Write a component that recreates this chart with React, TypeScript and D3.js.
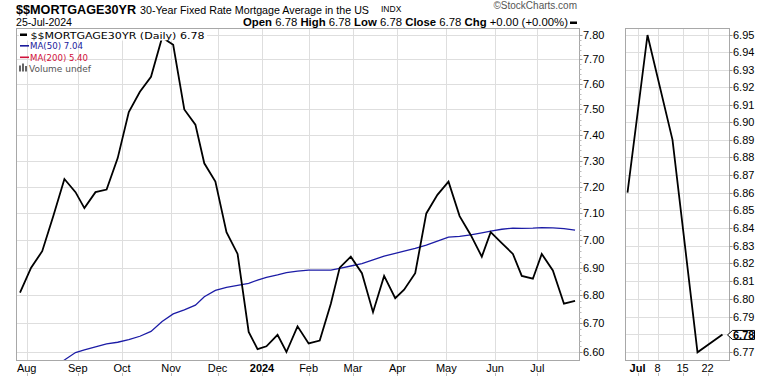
import React from 'react';
import * as d3 from 'd3';

// ---- Data (weekly 30-year fixed mortgage average) ----
const priceDates = [
  '2023-07-27', '2023-08-03', '2023-08-10', '2023-08-17', '2023-08-24', '2023-08-31',
  '2023-09-07', '2023-09-14', '2023-09-21', '2023-09-28', '2023-10-05', '2023-10-12',
  '2023-10-19', '2023-10-26', '2023-11-02', '2023-11-09', '2023-11-16', '2023-11-22',
  '2023-11-30', '2023-12-07', '2023-12-14', '2023-12-21', '2023-12-28', '2024-01-04',
  '2024-01-11', '2024-01-18', '2024-01-25', '2024-02-01', '2024-02-08', '2024-02-15',
  '2024-02-22', '2024-02-29', '2024-03-07', '2024-03-14', '2024-03-21', '2024-03-28',
  '2024-04-04', '2024-04-11', '2024-04-18', '2024-04-25', '2024-05-02', '2024-05-09',
  '2024-05-16', '2024-05-23', '2024-05-30', '2024-06-06', '2024-06-13', '2024-06-20',
  '2024-06-27', '2024-07-03', '2024-07-11', '2024-07-18', '2024-07-25',
];
const priceValues = [
  6.81, 6.90, 6.96, 7.09, 7.23, 7.18,
  7.12, 7.18, 7.19, 7.31, 7.49, 7.57,
  7.63, 7.79, 7.76, 7.50, 7.44, 7.29,
  7.22, 7.03, 6.95, 6.67, 6.61, 6.62,
  6.66, 6.60, 6.69, 6.63, 6.64, 6.77,
  6.90, 6.94, 6.88, 6.74, 6.87, 6.79,
  6.82, 6.88, 7.10, 7.17, 7.22, 7.09,
  7.02, 6.94, 7.03, 6.99, 6.95, 6.87,
  6.86, 6.95, 6.89, 6.77, 6.78,
];
const ma50Values: (number | null)[] = [
  null, null, null, 6.55, 6.572, 6.598,
  6.607, 6.618, 6.628, 6.634, 6.643, 6.655,
  6.672, 6.707, 6.734, 6.748, 6.765, 6.795,
  6.818, 6.829, 6.836, 6.843, 6.855, 6.865,
  6.874, 6.882, 6.887, 6.891, 6.891, 6.891,
  6.897, 6.906, 6.915, 6.928, 6.942, 6.952,
  6.960, 6.970, 6.982, 6.997, 7.012, 7.015,
  7.020, 7.028, 7.034, 7.041, 7.045, 7.044,
  7.045, 7.047, 7.046, 7.043, 7.038,
];
const ma200Last = 5.40;

const holidays = [
  '2023-09-04', '2023-11-23', '2023-12-25', '2024-01-01', '2024-01-15',
  '2024-02-19', '2024-03-29', '2024-05-27', '2024-06-19', '2024-07-04',
];

const monthStarts = [
  '2023-08-01', '2023-09-01', '2023-10-01', '2023-11-01', '2023-12-01', '2024-01-01',
  '2024-02-01', '2024-03-01', '2024-04-01', '2024-05-01', '2024-06-01', '2024-07-01',
];
const monthLabels = ['Aug', 'Sep', 'Oct', 'Nov', 'Dec', '2024', 'Feb', 'Mar', 'Apr', 'May', 'Jun', 'Jul'];
const monthBold = [false, false, false, false, false, true, false, false, false, false, false, false];

const zoomTickDates = ['2024-07-01', '2024-07-08', '2024-07-15', '2024-07-22'];
const zoomTickLabels = ['Jul', '8', '15', '22'];
const zoomTickBold = [true, false, false, false];

const mainYTicks = [6.6, 6.7, 6.8, 6.9, 7.0, 7.1, 7.2, 7.3, 7.4, 7.5, 7.6, 7.7, 7.8];
const zoomYTicks = [6.77, 6.78, 6.79, 6.8, 6.81, 6.82, 6.83, 6.84, 6.85, 6.86, 6.87, 6.88, 6.89, 6.9, 6.91, 6.92, 6.93, 6.94, 6.95];

// ---- trading day calendar ----
const tradingDays: string[] = [];
{
  const d = new Date(Date.UTC(2023, 6, 20));
  const end = Date.UTC(2024, 7, 5);
  while (d.getTime() <= end) {
    const dow = d.getUTCDay();
    const s = d.toISOString().slice(0, 10);
    if (dow !== 0 && dow !== 6 && !holidays.includes(s)) tradingDays.push(s);
    d.setUTCDate(d.getUTCDate() + 1);
  }
}
const tIndex = (s: string) => tradingDays.findIndex((t) => t >= s);

// ---- layout ----
const M = { left: 16.5, right: 579.5, top: 28.5, bottom: 360.5 };
const Z = { left: 625.5, right: 729.5, top: 28.5, bottom: 360.5 };
const GRID = '#dedede';
const BORDER = '#a8a8a8';
const AXISFONT = "'Liberation Sans', Arial, sans-serif";
const LEGFONT = "'DejaVu Sans', Verdana, sans-serif";

export default function App() {
  const firstI = tIndex(priceDates[0]);
  const lastI = tIndex(priceDates[priceDates.length - 1]);
  const x = d3.scaleLinear().domain([firstI - 1.58, lastI + 2.0]).range([M.left, M.right]);
  const y = d3.scaleLog().domain([6.6, 7.8]).range([352, 35]);

  const zStart = priceDates.indexOf('2024-06-27');
  const zDates = priceDates.slice(zStart);
  const zVals = priceValues.slice(zStart);
  const zx = d3.scaleLinear()
    .domain([tIndex(zDates[0]) - 0.4, tIndex(zDates[zDates.length - 1]) + 1.4])
    .range([Z.left, Z.right]);
  const zy = d3.scaleLog().domain([6.77, 6.95]).range([352.3, 35]);

  const priceLine = d3.line<number>()
    .x((_, i) => x(tIndex(priceDates[i])))
    .y((v) => y(v));
  const maLine = d3.line<number | null>()
    .defined((v) => v !== null)
    .x((_, i) => x(tIndex(priceDates[i])))
    .y((v) => y(v as number));
  const zLine = d3.line<number>()
    .x((_, i) => zx(tIndex(zDates[i])))
    .y((v) => zy(v));

  const last = priceValues[priceValues.length - 1];
  const lastMa = ma50Values[ma50Values.length - 1] as number;
  const lastDate = priceDates[priceDates.length - 1];
  const dateLabel = d3.utcFormat('%d-%b-%Y')(new Date(lastDate + 'T00:00:00Z'));

  const minorMain = d3.range(6.6, 7.8001, 0.02);
  const tagY = zy(last);

  return (
    <svg width={770} height={376} style={{ position: 'absolute', left: 0, top: 0, background: '#fff' }}>
      <defs>
        <clipPath id="mainClip">
          <rect x={M.left} y={M.top} width={M.right - M.left} height={M.bottom - M.top} />
        </clipPath>
        <clipPath id="zoomClip">
          <rect x={Z.left} y={Z.top} width={Z.right - Z.left} height={Z.bottom - Z.top} />
        </clipPath>
      </defs>

      {/* Header */}
      <text x={16} y={13.5} fontFamily={AXISFONT} fontWeight="bold" fontSize={12.5} textLength={120} lengthAdjust="spacingAndGlyphs">$$MORTGAGE30YR</text>
      <text x={140} y={13.5} fontFamily={AXISFONT} fontSize={10.8} textLength={229} lengthAdjust="spacingAndGlyphs">30-Year Fixed Rate Mortgage Average in the US</text>
      <text x={381} y={11.5} fontFamily={AXISFONT} fontSize={8.5}>INDX</text>
      <text x={577} y={8.5} textAnchor="end" fontFamily={AXISFONT} fontSize={10} fill="#555">©StockCharts.com</text>
      <text x={16} y={25.5} fontFamily={AXISFONT} fontSize={10} textLength={56} lengthAdjust="spacingAndGlyphs">{dateLabel}</text>
      <text x={243} y={25.5} fontFamily={AXISFONT} fontSize={11} textLength={325} lengthAdjust="spacingAndGlyphs">
        <tspan fontWeight="bold">Open</tspan> {last.toFixed(2)}{'  '}
        <tspan fontWeight="bold">High</tspan> {last.toFixed(2)}{'  '}
        <tspan fontWeight="bold">Low</tspan> {last.toFixed(2)}{'  '}
        <tspan fontWeight="bold">Close</tspan> {last.toFixed(2)}{'  '}
        <tspan fontWeight="bold">Chg</tspan> +0.00 (+0.00%)
      </text>
      <rect x={570} y={21.5} width={7} height={2.5} fill="#000" />

      {/* Main panel grid */}
      <g>
        {mainYTicks.map((t) => (
          <line key={'h' + t} x1={M.left} x2={M.right} y1={Math.round(y(t)) + 0.5} y2={Math.round(y(t)) + 0.5} stroke={GRID} />
        ))}
        {monthStarts.map((m) => {
          const xx = Math.round(x(tIndex(m))) + 0.5;
          return <line key={'v' + m} x1={xx} x2={xx} y1={M.top} y2={M.bottom} stroke={GRID} />;
        })}
      </g>
      {/* Zoom panel grid */}
      <g>
        {zoomYTicks.map((t) => (
          <line key={'zh' + t} x1={Z.left} x2={Z.right} y1={Math.round(zy(t)) + 0.5} y2={Math.round(zy(t)) + 0.5} stroke={GRID} />
        ))}
        {zoomTickDates.map((m) => {
          const xx = Math.round(zx(tIndex(m))) + 0.5;
          return <line key={'zv' + m} x1={xx} x2={xx} y1={Z.top} y2={Z.bottom} stroke={GRID} />;
        })}
      </g>

      {/* Lines */}
      <g clipPath="url(#mainClip)">
        <path d={maLine(ma50Values) || ''} fill="none" stroke="#1c1ca6" strokeWidth={1.3} />
        <path d={priceLine(priceValues) || ''} fill="none" stroke="#000" strokeWidth={1.8} strokeLinejoin="miter" />
      </g>
      <g clipPath="url(#zoomClip)">
        <path d={zLine(zVals) || ''} fill="none" stroke="#000" strokeWidth={1.8} />
      </g>

      {/* Borders */}
      <rect x={M.left} y={M.top} width={M.right - M.left} height={M.bottom - M.top} fill="none" stroke={BORDER} />
      <rect x={Z.left} y={Z.top} width={Z.right - Z.left} height={Z.bottom - Z.top} fill="none" stroke={BORDER} />

      {/* Legend */}
      <rect x={19} y={29} width={188} height={11.5} fill="#fff" />
      <rect x={20} y={33.5} width={7} height={2.5} fill="#000" />
      <text x={30.5} y={38.5} fontFamily={LEGFONT} fontSize={8.8} textLength={174} lengthAdjust="spacingAndGlyphs" fill="#000">$$MORTGAGE30YR (Daily) {last.toFixed(2)}</text>
      <rect x={20} y={45} width={9} height={1.6} fill="#1a1a9c" />
      <text x={30} y={49.3} fontFamily={LEGFONT} fontSize={8.8} textLength={53} lengthAdjust="spacingAndGlyphs" fill="#1a1a9c">MA(50) {lastMa.toFixed(2)}</text>
      <rect x={20} y={56.5} width={9} height={1.6} fill="#d0103a" />
      <text x={30} y={60.5} fontFamily={LEGFONT} fontSize={8.8} textLength={58} lengthAdjust="spacingAndGlyphs" fill="#d0103a">MA(200) {ma200Last.toFixed(2)}</text>
      <g fill="#666">
        <rect x={19} y={65.5} width={2} height={6} />
        <rect x={22} y={63.5} width={2} height={8} />
        <rect x={25} y={66} width={2} height={5.5} />
      </g>
      <text x={29} y={71.8} fontFamily={LEGFONT} fontSize={8.8} textLength={62} lengthAdjust="spacingAndGlyphs" fill="#555">Volume undef</text>

      {/* Main right axis */}
      {minorMain.map((t, i) => (
        <line key={'mm' + i} x1={M.right} x2={M.right + 2} y1={Math.round(y(t)) + 0.5} y2={Math.round(y(t)) + 0.5} stroke="#bbb" />
      ))}
      {mainYTicks.map((t) => (
        <g key={'ml' + t}>
          <line x1={M.right} x2={M.right + 3} y1={Math.round(y(t)) + 0.5} y2={Math.round(y(t)) + 0.5} stroke="#999" />
          <text x={583} y={y(t) + 4} fontFamily={AXISFONT} fontSize={11} fill="#000">{t.toFixed(2)}</text>
        </g>
      ))}
      {/* Zoom right axis */}
      {zoomYTicks.map((t) => (
        <g key={'zl' + t}>
          <line x1={Z.right} x2={Z.right + 3} y1={Math.round(zy(t)) + 0.5} y2={Math.round(zy(t)) + 0.5} stroke="#999" />
          {Math.abs(t - last) > 0.001 && (
            <text x={733} y={zy(t) + 4} fontFamily={AXISFONT} fontSize={11} fill="#000">{t.toFixed(2)}</text>
          )}
        </g>
      ))}
      {/* Last value tag */}
      <path
        d={`M${Z.right - 2},${tagY + 0.5} L${Z.right + 3},${tagY - 4} L${754.5},${tagY - 4} L${754.5},${tagY + 5} L${Z.right + 3},${tagY + 5} Z`}
        fill="#fff"
        stroke="#000"
      />
      <text x={733} y={tagY + 4.5} fontFamily={AXISFONT} fontSize={11} fontWeight="bold" fill="#000">{last.toFixed(2)}</text>

      {/* X axes */}
      {monthStarts.map((m, i) => {
        const xx = x(tIndex(m));
        return (
          <g key={'xl' + m}>
            <line x1={Math.round(xx) + 0.5} x2={Math.round(xx) + 0.5} y1={373} y2={376} stroke="#bbb" />
            <text x={xx} y={371.5} textAnchor="middle" fontFamily={AXISFONT} fontSize={11} fontWeight={monthBold[i] ? 'bold' : 'normal'} fill="#000">{monthLabels[i]}</text>
          </g>
        );
      })}
      {zoomTickDates.map((m, i) => {
        const xx = zx(tIndex(m));
        return (
          <g key={'zx' + m}>
            <line x1={Math.round(xx) + 0.5} x2={Math.round(xx) + 0.5} y1={373} y2={376} stroke="#bbb" />
            <text x={xx} y={371.5} textAnchor="middle" fontFamily={AXISFONT} fontSize={11} fontWeight={zoomTickBold[i] ? 'bold' : 'normal'} fill="#000">{zoomTickLabels[i]}</text>
          </g>
        );
      })}
    </svg>
  );
}
